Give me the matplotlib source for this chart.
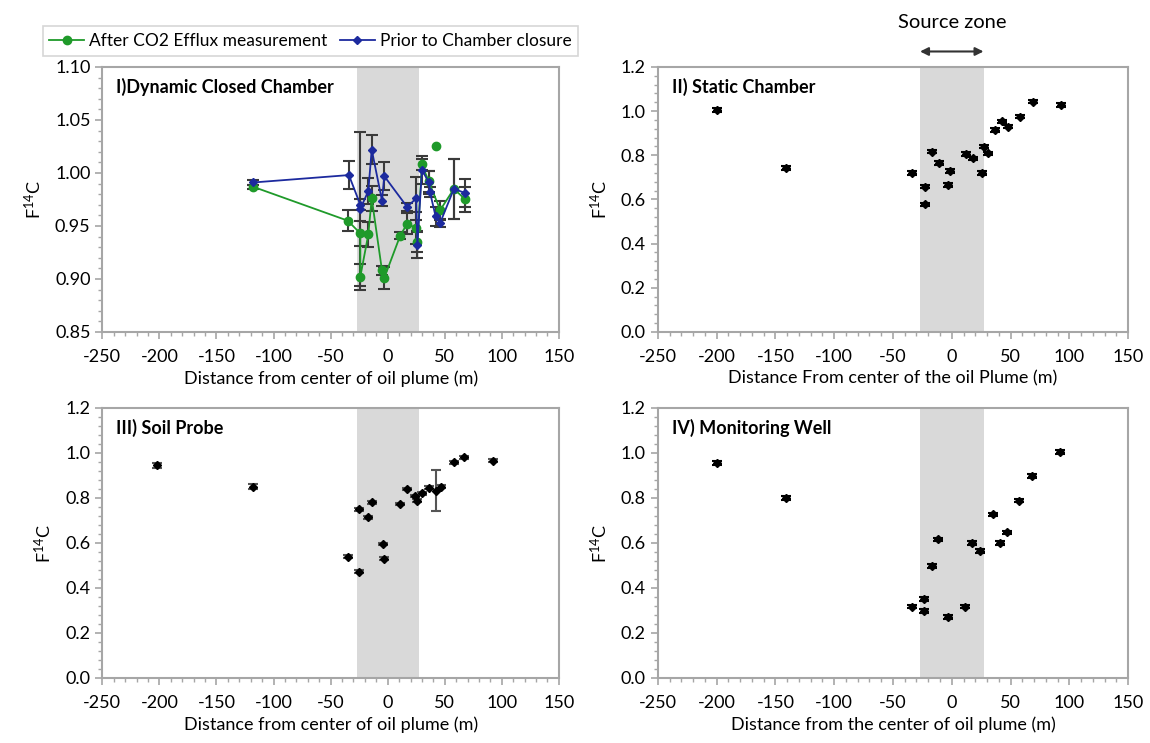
import matplotlib
matplotlib.use("Agg")
import matplotlib.pyplot as plt
from matplotlib.ticker import MultipleLocator

plt.rcParams['font.family'] = ['Lato', 'DejaVu Sans']
plt.rcParams['mathtext.default'] = 'regular'
plt.rcParams['axes.unicode_minus'] = False

# I) Dynamic closed chamber
prior_x = [-118, -34, -24, -24, -17, -14, -5, -3, 17, 25, 26, 30, 36, 37, 42, 46, 58, 68]
prior_y = [0.991, 0.998, 0.970, 0.966, 0.983, 1.022, 0.974, 0.997, 0.968, 0.976, 0.932,
           1.003, 0.991, 0.982, 0.959, 0.953, 0.985, 0.981]
prior_err = [0.002, 0.013, 0.005, 0.073, 0.012, 0.014, 0.005, 0.013, 0.004, 0.02, 0.012,
             0.013, 0.011, 0.005, 0.009, 0.004, 0.028, 0.013]

after_x = [-118, -35, -24, -24, -17, -14, -5, -3, 11, 17, 25, 26, 30, 36, 46, 58, 68]
after_y = [0.987, 0.955, 0.943, 0.902, 0.942, 0.976, 0.908, 0.901, 0.941, 0.952, 0.948,
           0.935, 1.008, 0.992, 0.965, 0.985, 0.975]
after_err = [0.002, 0.01, 0.012, 0.012, 0.012, 0.012, 0.004, 0.01, 0.003, 0.01, 0.015,
             0.01, 0.005, 0.01, 0.009, 0.028, 0.012]
after_extra_x = [42]
after_extra_y = [1.025]

# II) Static chamber
static_x = [-200, -141, -34, -23, -23, -17, -11, -3, -1.5, 12, 18, 25.5, 27, 31, 37, 42.5,
            47.5, 58, 69, 93]
static_y = [1.005, 0.743, 0.719, 0.658, 0.578, 0.817, 0.764, 0.666, 0.729, 0.805, 0.786,
            0.719, 0.839, 0.809, 0.915, 0.953, 0.930, 0.975, 1.043, 1.028]

# III) Soil probe
soil_x = [-202, -118, -35, -25, -25, -17, -14, -4, -3, 11, 17, 24, 26, 30, 36, 42, 47, 58,
          67, 92]
soil_y = [0.945, 0.850, 0.539, 0.750, 0.472, 0.714, 0.781, 0.596, 0.530, 0.773, 0.840,
          0.809, 0.788, 0.821, 0.846, 0.833, 0.850, 0.959, 0.981, 0.966]
soil_err = [0.012, 0.012, 0.006, 0.006, 0.006, 0.006, 0.006, 0.006, 0.006, 0.006, 0.006,
            0.006, 0.006, 0.006, 0.006, 0.09, 0.006, 0.006, 0.006, 0.006]

# IV) Monitoring well
well_x = [-200, -141, -34, -24, -24, -17, -12, -3, 11, 17, 24, 35, 41, 47, 57, 68, 92]
well_y = [0.956, 0.800, 0.317, 0.351, 0.299, 0.499, 0.616, 0.270, 0.317, 0.601, 0.564,
          0.727, 0.601, 0.647, 0.788, 0.898, 1.005]

zone = (-27, 27)
green = '#1f9a2a'
blue = '#1c2a9e'
spine_c = '#a6a6a6'
fs = 13

fig = plt.figure(figsize=(11.5, 7.43), dpi=100)
ax1 = fig.add_axes([0.089, 0.5532, 0.397, 0.3567])
ax2 = fig.add_axes([0.572, 0.5532, 0.409, 0.3567])
ax3 = fig.add_axes([0.089, 0.0875, 0.397, 0.3634])
ax4 = fig.add_axes([0.572, 0.0875, 0.409, 0.3634])


def style(ax, ylim, ymaj, ymin, fmt):
    ax.axvspan(zone[0], zone[1], color='#d9d9d9', lw=0, zorder=0)
    ax.set_xlim(-250, 150)
    ax.set_ylim(*ylim)
    ax.xaxis.set_major_locator(MultipleLocator(50))
    ax.xaxis.set_minor_locator(MultipleLocator(10))
    ax.yaxis.set_major_locator(MultipleLocator(ymaj))
    ax.yaxis.set_minor_locator(MultipleLocator(ymin))
    ax.yaxis.set_major_formatter(fmt)
    for s in ax.spines.values():
        s.set_color(spine_c)
        s.set_linewidth(1.5)
    ax.tick_params(which='both', direction='out', color=spine_c, labelsize=fs,
                   top=False, right=False)
    ax.tick_params(which='major', length=5, width=1.2)
    ax.tick_params(axis='x', which='major', pad=7)
    ax.tick_params(which='minor', length=3, width=1)
    ax.set_ylabel('F$^{14}$C', fontsize=fs, labelpad=8)


style(ax1, (0.85, 1.10), 0.05, 0.01, '{x:.2f}')
for ax in (ax2, ax3, ax4):
    style(ax, (0.0, 1.2), 0.2, 0.04, '{x:.1f}')

# panel I
ax1.errorbar(after_x, after_y, yerr=after_err, fmt='none', ecolor='#3a3a3a',
             elinewidth=1.5, capsize=4, capthick=1.5, zorder=2)
ax1.errorbar(prior_x, prior_y, yerr=prior_err, fmt='none', ecolor='#3a3a3a',
             elinewidth=1.5, capsize=4, capthick=1.5, zorder=2)
after_line, = ax1.plot(after_x, after_y, '-o', color=green, lw=1.3, ms=6, zorder=3,
                       label='After CO2 Efflux measurement')
ax1.plot(after_extra_x, after_extra_y, 'o', color=green, ms=6, zorder=3)
prior_line, = ax1.plot(prior_x, prior_y, '-D', color=blue, lw=1.3, ms=4.5, zorder=4,
                       label='Prior to Chamber closure')
ax1.set_xlabel('Distance from center of oil plume (m)', fontsize=fs, labelpad=4)

# panels II-IV
ax2.errorbar(static_x, static_y, yerr=0.008, fmt='D', color='black', ms=4.5,
             elinewidth=1.2, capsize=3.5, capthick=1.5, zorder=3)
ax3.errorbar(soil_x, soil_y, yerr=soil_err, fmt='D', color='black', ms=4.5,
             ecolor='#555555', elinewidth=1.5, capsize=3.5, capthick=1.5, zorder=3)
ax4.errorbar(well_x, well_y, yerr=0.008, fmt='D', color='black', ms=4.5,
             elinewidth=1.2, capsize=3.5, capthick=1.5, zorder=3)

ax2.set_xlabel('Distance From center of the oil Plume (m)', fontsize=fs, labelpad=4)
ax3.set_xlabel('Distance from center of oil plume (m)', fontsize=fs, labelpad=4)
ax4.set_xlabel('Distance from the center of oil plume (m)', fontsize=fs, labelpad=4)

titles = ['I)Dynamic Closed Chamber', 'II) Static Chamber', 'III) Soil Probe',
          'IV) Monitoring Well']
for ax, t in zip((ax1, ax2, ax3, ax4), titles):
    ax.text(0.03, 0.96, t, transform=ax.transAxes, fontsize=fs, fontweight='bold',
            va='top', ha='left')

# source zone arrow
ax2.annotate('', xy=(zone[0], 1.27), xytext=(zone[1], 1.27), xycoords='data',
             annotation_clip=False,
             arrowprops=dict(arrowstyle='<|-|>', color='#333333', lw=1.5,
                             mutation_scale=12, shrinkA=0, shrinkB=0))
ax2.text(0, 1.40, 'Source zone', fontsize=14.5, ha='center', va='center', clip_on=False)

leg = fig.legend(handles=[after_line, prior_line], loc='upper left',
                 bbox_to_anchor=(0.037, 0.965), ncol=2, fontsize=12.5, frameon=True,
                 fancybox=False, edgecolor='#cccccc', handlelength=2, handletextpad=0.3,
                 columnspacing=0.7, borderpad=0.4, borderaxespad=0)
leg.get_frame().set_linewidth(1.2)

fig.savefig('out.png', dpi=100)
